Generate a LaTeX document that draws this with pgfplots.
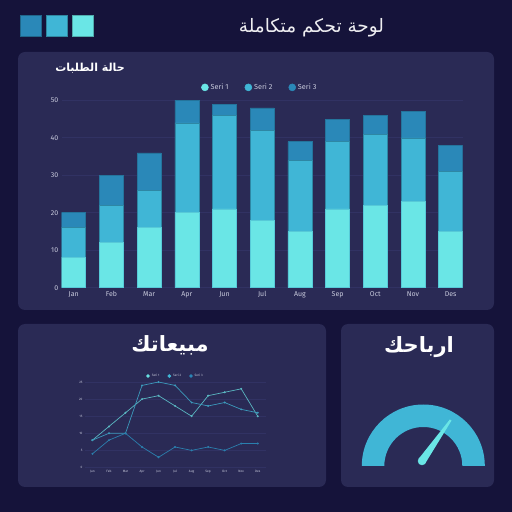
\documentclass[border=0pt]{standalone}
\usepackage{pgfplots}
\pgfplotsset{compat=1.18}
\usepackage{fontspec}
\setmainfont{Fira Sans}
\newfontfamily\arabicfont[Script=Arabic]{DejaVu Sans}
\TeXXeTstate=1
\definecolor{bg}{HTML}{15133A}
\definecolor{panel}{HTML}{2A2A55}
\definecolor{cA}{HTML}{6AE6E6}
\definecolor{cB}{HTML}{40B6D6}
\definecolor{cC}{HTML}{2A88B8}
\definecolor{gridc}{HTML}{313263}
\definecolor{tickc}{HTML}{C8CADC}
\pgfplotstableread{
x s1 s2 s3
0 8 8 4
1 12 10 8
2 16 10 10
3 20 24 6
4 21 25 3
5 18 24 6
6 15 19 5
7 21 18 6
8 22 19 5
9 23 17 7
10 15 16 7
}\datatable
\begin{document}
\begin{tikzpicture}[x=1pt,y=1pt]
\fill[bg] (0,0) rectangle (512,512);
\useasboundingbox (0,0) rectangle (512,512);
% panels
\fill[panel, rounded corners=7pt] (18,202) rectangle (494,460);
\fill[panel, rounded corners=7pt] (18,25) rectangle (326,188);
\fill[panel, rounded corners=7pt] (341,25) rectangle (494,188);
% squares
\filldraw[fill=cC, draw=cC!75!black, line width=0.6pt] (20.7,475.7) rectangle (41.3,496.7);
\filldraw[fill=cB, draw=cB!75!black, line width=0.6pt] (46.7,475.7) rectangle (67.3,496.7);
\filldraw[fill=cA, draw=cA!75!black, line width=0.6pt] (72.7,475.7) rectangle (93.7,496.7);
% titles
\node[text=white!92!panel, font=\arabicfont\fontsize{18.5}{21}\selectfont] at (311.5,484.5) {\beginR لوحة تحكم متكاملة\endR};
\node[text=white, font=\arabicfont\bfseries\fontsize{11}{13}\selectfont] at (90,443.7) {\beginR حالة الطلبات\endR};
\node[text=white, font=\arabicfont\bfseries\fontsize{21}{24}\selectfont] at (170,167) {\beginR مبيعاتك\endR};
\node[text=white, font=\arabicfont\bfseries\fontsize{21}{24}\selectfont] at (419,165.3) {\beginR ارباحك\endR};

% bar chart
\begin{axis}[at={(61.7pt,224.3pt)}, anchor=south west, scale only axis,
  width=401pt, height=187.4pt,
  ybar stacked, bar width=24pt,
  xmin=-0.318, xmax=10.318, ymin=0, ymax=50,
  xtick={0,...,10}, xticklabels={Jan,Feb,Mar,Apr,Jun,Jul,Aug,Sep,Oct,Nov,Des},
  ytick={0,10,...,50},
  ymajorgrids, grid style={gridc, line width=0.6pt},
  axis line style={draw=none}, major tick length=0pt,
  tick label style={text=tickc, font=\fontsize{7}{8}\selectfont},
  /pgf/number format/assume math mode=true,
  legend style={at={(0.494,1.069)}, anchor=center, draw=none, fill=none,
    text=tickc, font=\fontsize{7.3}{8}\selectfont, legend columns=-1,
    /tikz/every even column/.append style={column sep=14pt}},
]
\addplot[fill=cA, draw=cA!70!cC, line width=0.5pt, legend image code/.code={\fill[cA] (0.12cm,0) circle (3.5pt);}] table[x=x,y=s1] {\datatable};
\addplot[fill=cB, draw=cB!70!cC!80!black, line width=0.5pt, legend image code/.code={\fill[cB] (0.12cm,0) circle (3.5pt);}] table[x=x,y=s2] {\datatable};
\addplot[fill=cC, draw=cC!85!black, line width=0.5pt, legend image code/.code={\fill[cC] (0.12cm,0) circle (3.5pt);}] table[x=x,y=s3] {\datatable};
\legend{Seri 1, Seri 2, Seri 3}
\end{axis}

% line chart
\begin{axis}[at={(85pt,44.5pt)}, anchor=south west, scale only axis,
  width=181pt, height=85.5pt,
  xmin=-0.45, xmax=10.5, ymin=0, ymax=25,
  xtick={0,...,10}, xticklabels={Jan,Feb,Mar,Apr,Jun,Jul,Aug,Sep,Oct,Nov,Des},
  ytick={0,5,...,25},
  ymajorgrids, grid style={gridc, line width=0.5pt},
  axis line style={draw=none}, major tick length=0pt,
  tick label style={text=tickc, font=\fontsize{3.2}{4}\selectfont},
  xticklabel style={yshift=1pt},
  yticklabel style={xshift=1pt},
  /pgf/number format/assume math mode=true,
  legend style={at={(0.5,1.07)}, anchor=center, draw=none, fill=none,
    text=tickc, font=\fontsize{3.2}{4}\selectfont, legend columns=-1,
    /tikz/every even column/.append style={column sep=6pt}},
]
\addplot[color=cA!75!panel, line width=0.7pt, mark=*, mark size=0.6pt, legend image code/.code={\fill[cA] (0.05cm,0) circle (1.4pt);}] table[x=x,y=s1] {\datatable};
\addplot[color=cB!80!panel, line width=0.7pt, mark=*, mark size=0.6pt, legend image code/.code={\fill[cB] (0.05cm,0) circle (1.4pt);}] table[x=x,y=s2] {\datatable};
\addplot[color=cC!90!panel, line width=0.7pt, mark=*, mark size=0.6pt, legend image code/.code={\fill[cC] (0.05cm,0) circle (1.4pt);}] table[x=x,y=s3] {\datatable};
\legend{Seri 1, Seri 2, Seri 3}
\end{axis}

% gauge
\begin{axis}[at={(361.8pt,46pt)}, anchor=south west, scale only axis,
  width=123pt, height=61.5pt, xmin=-61.5, xmax=61.5, ymin=0, ymax=61.5,
  hide axis, clip=false]
\fill[cB] (axis cs:-61.5,0) arc[start angle=180, end angle=0, radius=61.5pt] -- (axis cs:39,0) arc[start angle=0, end angle=180, radius=39pt] -- cycle;
\addplot[fill=cA, draw=none] coordinates {(-4.58,7.29) (26.58,46.57) (28.22,45.43) (1.98,2.71)} -- cycle;
\addplot[only marks, mark=*, mark size=4pt, color=cA] coordinates {(-1.3,5)};
\end{axis}
\end{tikzpicture}
\end{document}
